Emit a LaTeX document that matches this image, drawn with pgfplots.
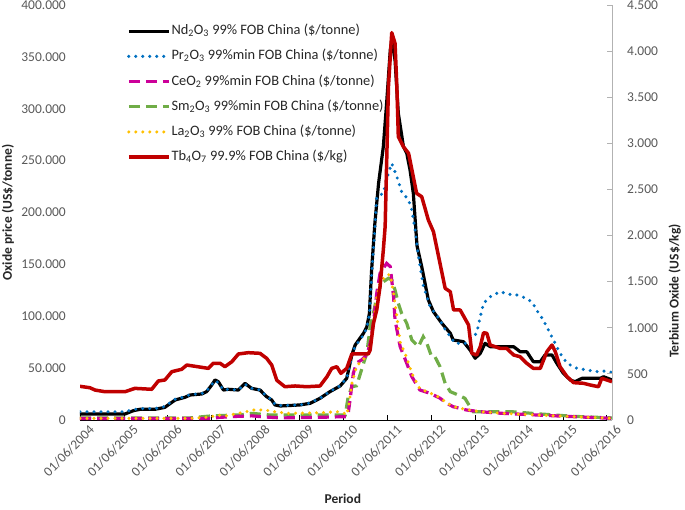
\documentclass[border=0pt]{standalone}
\usepackage{fontspec}
\setmainfont{Carlito}
\usepackage{pgfplots}
\pgfplotsset{compat=1.18}
\definecolor{ndc}{RGB}{0,0,0}
\definecolor{prc}{RGB}{0,112,192}
\definecolor{cec}{RGB}{204,0,153}
\definecolor{smc}{RGB}{112,173,71}
\definecolor{lac}{RGB}{255,192,0}
\definecolor{tbc}{RGB}{192,0,0}
\definecolor{tickc}{RGB}{89,89,89}
\pgfplotsset{
 ndstyle/.style={ndc, line width=3.2pt, line join=round},
 prstyle/.style={prc, line width=3.4pt, line cap=round, dash pattern=on 0pt off 7pt},
 cestyle/.style={cec, line width=3.2pt, dash pattern=on 11pt off 6pt},
 smstyle/.style={smc, line width=3.2pt, dash pattern=on 11pt off 6pt},
 lastyle/.style={lac, line width=3.4pt, line cap=round, dash pattern=on 0pt off 7pt},
 tbstyle/.style={tbc, line width=3.5pt, line join=round},
 commonax/.style={scale only axis, width=532pt, height=415pt, xmin=0, xmax=145.4,
   at={(80pt,89pt)}, anchor=south west,
   tick align=inside, major tick length=5pt,
   ticklabel style={font=\fontsize{13.5}{16}\selectfont, text=tickc},
   label style={font=\fontsize{13.5}{16}\selectfont\bfseries, text=black!85},
   scaled y ticks=false,
   /pgf/number format/.cd, 1000 sep={.}, fixed, assume math mode=true},
}
\pgfplotstableread{
m v
0 5800
12.3 5800
14.6 9000
16.4 10300
20.5 10300
23.2 12200
24.1 14500
26 19300
28.7 21900
30.1 24100
33.3 25100
34.6 27300
36 33700
36.9 38600
37.8 36900
39.2 28900
40.5 29600
43.3 28900
45.1 35300
46.9 30500
49.2 28900
51 22500
52.4 19300
53.3 14500
54.7 13500
60.1 14500
62.9 16100
65.6 20900
68.3 27300
71.1 32800
72.9 40200
74.3 62700
75.2 72300
77.5 83600
78.4 89900
79.1 102800
79.7 144600
80.6 190000
81.6 228100
82.9 263400
83.8 305300
84.8 356600
85.2 366300
86.1 347000
87 295600
88.4 263400
89.3 257100
90.2 241000
91.1 218500
92.1 168000
93.4 147800
95.2 115700
96.6 104400
98.9 93200
101.2 83600
102 77100
104.8 75500
106.6 67500
108 59500
109.4 64300
110.7 73900
112.1 70700
118.5 70700
120.3 65800
122.1 65800
123.9 56200
125.8 56200
127.1 62700
129 62700
130.3 54700
132.1 45000
134 38600
135.3 36900
137.2 40200
142.2 40200
143.1 41700
145.4 38600
}\nd
\pgfplotstableread{
m v
0 8000
12.3 8000
14.6 10000
16.4 11000
20.5 11000
23.2 13000
24.1 15500
26 20000
28.7 22500
30.1 24500
33.3 25500
34.6 28000
36 34000
36.9 38000
37.8 36000
39.2 29000
40.5 29600
43.3 29000
45.1 34500
46.9 30500
49.2 29000
51 23000
52.4 19500
53.3 15000
54.7 14000
60.1 14500
62.9 16500
65.6 21000
68.3 27500
71.1 33000
72.9 40500
74.3 62000
75.2 71000
77.5 82000
78.4 89000
79.1 102000
79.7 140000
80.6 185000
81.1 215000
82.9 218500
84.3 237800
85.2 247400
86.6 234500
87.9 220100
89.8 212000
90.7 202400
91.6 183000
92.5 157400
93.9 128500
95.7 109200
98.4 96400
99.3 89900
102.5 73900
105.7 73900
108.4 83600
109.4 99600
110.3 112500
112.1 118800
114.8 123700
117.1 121200
119.4 120500
121.2 118300
123.5 114000
124.8 106000
126.6 96400
128 86800
129.4 77100
131.2 64300
133.1 54700
135.8 49800
138.5 48200
141.2 46600
142.6 47500
144 46600
145.4 46000
}\pr
\pgfplotstableread{
m v
0 1500
36 1500
38 2500
43 3500
47 4000
50 3000
55 2000
65 2500
70 3000
72.9 3200
73.3 6400
73.8 19300
74.7 45000
75.6 55000
77 58000
78.4 62700
79.3 73900
80.2 93200
81.1 122100
82 141400
83.8 151000
84.8 147800
85.7 118800
86.1 96400
87.5 70700
89.3 54700
90.7 41700
92.9 28900
95.7 25700
98.4 21000
100.2 16100
102 12800
105.7 9600
109.4 8000
115 6500
125 4800
135 3200
145.4 1600
}\ce
\pgfplotstableread{
m v
0 2000
30 2000
36 4000
44 5000
47 6400
52 4800
72.5 4800
73.3 22500
74.3 32100
75.6 33000
77.5 54700
78.4 64300
79.3 89900
80.2 102800
81.1 118800
82 128500
82.9 133300
84.3 136600
85.2 135000
86.1 125300
87 112500
87.9 102800
89.3 93200
90.7 77100
92.5 70700
93.8 80300
94.8 73900
96.1 61000
97 61000
98.4 51400
99.8 35400
101.2 27300
103.4 24100
105.2 20900
106.6 12800
107.5 8000
118 8000
125 6000
135 3500
145.4 2000
}\sm
\pgfplotstableread{
m v
0 1500
30 1500
36 3000
37 4800
40 4000
44 7000
48 10000
52 9000
53 8000
57 6400
66 7000
70.2 8000
72 7000
72.9 5000
73.5 15000
74.3 35000
75.6 52000
77 57000
78.4 62000
79.3 72000
80.2 92000
81.1 118000
82 132000
83.8 140000
84.8 140000
85.7 122000
86.6 100000
87.5 75000
89.3 60000
90.7 45000
92.9 30000
95.7 26000
98.4 21500
100.2 16500
102 13000
105.7 10000
109.4 8000
115 6500
125 4800
135 3200
145.4 1600
}\la
\pgfplotstableread{
m v
0 365
2.7 350
4.1 325
6.8 307
12.3 307
15 343
19.6 333
21.4 423
23.2 434
25.1 524
27.8 550
29.2 596
35.1 560
36.4 615
38.3 615
39.6 578
41.5 632
43.3 716
46 730
49.2 723
51 669
52.4 596
53.8 430
56 361
58.8 369
62 361
65.6 369
67.5 470
68.8 560
70.2 578
71.3 506
72.9 560
74.3 716
78.8 716
79.3 759
80.2 1048
81.1 1193
82 1445
82.9 1843
83.4 2100
84.3 3614
85.2 4200
86.1 4085
86.6 3614
87 3072
88.4 2963
89.8 2892
92 2458
93.4 2421
95.2 2169
96.6 2042
98.2 1735
99.8 1428
101.2 1391
102.1 1193
103.9 1193
106.2 1030
107.1 723
108.4 705
109.4 795
110.3 947
111.2 940
112.1 813
114.8 777
116.6 777
118.5 705
120.3 686
122.1 615
123.9 560
125.8 560
127.6 741
129 813
129.9 741
131.2 578
133.1 470
134.9 405
137.6 398
139.4 380
141.7 361
142.6 452
144 434
145.4 415
}\tb
\begin{document}
\begin{tikzpicture}
\begin{axis}[commonax,
  ymin=0, ymax=400000, ytick={0,50000,...,400000},
  axis y line*=left, y axis line style={draw=none}, ytick style={draw=none},
  axis x line*=bottom, x axis line style={line width=0.8pt, black},
  xtick={0,12,...,144},
  xticklabels={01/06/2004,01/06/2005,01/06/2006,01/06/2007,01/06/2008,01/06/2009,01/06/2010,01/06/2011,01/06/2012,01/06/2013,01/06/2014,01/06/2015,01/06/2016},
  xtick style={black, line width=0.8pt},
  xticklabel style={rotate=45, anchor=east, inner sep=0pt, xshift=3pt, yshift=-14pt},
  yticklabel style={anchor=east, inner sep=0pt, xshift=-14pt},
  ylabel={Oxide price (US\$/tonne)},
  ylabel style={at={(axis description cs:-0.1353,0.5)}, anchor=center},
  xlabel={Period},
  xlabel style={at={(axis description cs:0.494,-0.19)}, anchor=center},
]
\addplot[ndstyle] table[x=m,y=v]{\nd};
\addplot[prstyle] table[x=m,y=v]{\pr};
\addplot[smstyle] table[x=m,y=v]{\sm};
\addplot[cestyle] table[x=m,y=v]{\ce};
\addplot[lastyle] table[x=m,y=v]{\la};
\end{axis}
\begin{axis}[commonax,
  ymin=0, ymax=4500, ytick={0,500,...,4500},
  axis y line*=right, axis x line=none,
  y axis line style={line width=0.8pt, color=black!30},
  ytick style={line width=0.8pt, color=black!30},
  yticklabel style={anchor=west, inner sep=0pt, xshift=15pt},
  ylabel={Terbium Oxide (US\$/kg)},
  ylabel style={at={(axis description cs:1.118,0.311)}, anchor=center},
  legend image code/.code={\draw[#1] (0pt,0pt) -- (40pt,0pt);},
  legend cell align=left,
  legend style={at={(axis description cs:0.088,0.958)}, anchor=north west, draw=none, fill=none,
    font=\fontsize{14.4}{17}\selectfont, text=black!85, inner sep=0pt, row sep=8.2pt,
    nodes={inner sep=1pt, text height=11pt, text depth=4pt}},
]
\addlegendimage{ndstyle}
\addlegendentry{Nd\textsubscript{2}O\textsubscript{3} 99\% FOB China (\$/tonne)}
\addlegendimage{prstyle}
\addlegendentry{Pr\textsubscript{2}O\textsubscript{3} 99\%min FOB China (\$/tonne)}
\addlegendimage{cestyle}
\addlegendentry{CeO\textsubscript{2} 99\%min FOB China (\$/tonne)}
\addlegendimage{smstyle}
\addlegendentry{Sm\textsubscript{2}O\textsubscript{3} 99\%min FOB China (\$/tonne)}
\addlegendimage{lastyle}
\addlegendentry{La\textsubscript{2}O\textsubscript{3} 99\% FOB China (\$/tonne)}
\addplot[tbstyle] table[x=m,y=v]{\tb};
\addlegendentry{Tb\textsubscript{4}O\textsubscript{7} 99.9\% FOB China (\$/kg)}
\end{axis}
\pgfresetboundingbox
\useasboundingbox (0,0) rectangle (685pt,509pt);
\end{tikzpicture}
\end{document}
